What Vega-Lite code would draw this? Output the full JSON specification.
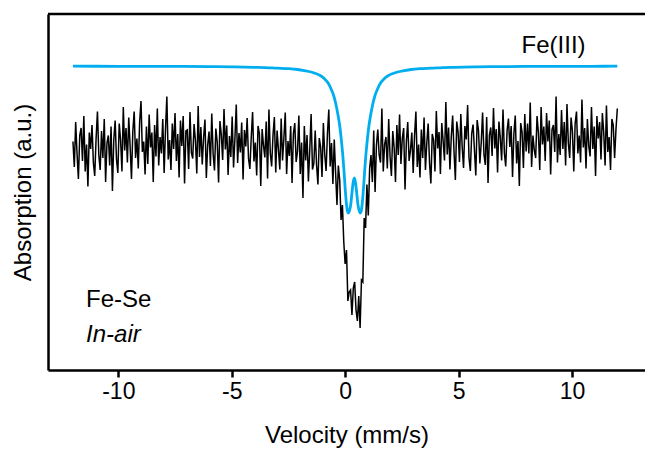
{
  "$schema": "https://vega.github.io/schema/vega-lite/v6.json",
  "width": 597,
  "height": 356,
  "autosize": {"type": "none"},
  "padding": {"left": 48, "top": 14, "right": 0, "bottom": 84},
  "background": "white",
  "datasets": {
    "raw": [
      {"v":-12,"a":228.5},{"v":-11.94,"a":203},{"v":-11.88,"a":248},{"v":-11.82,"a":216.5},{"v":-11.76,"a":191},{"v":-11.7,"a":234.5},{"v":-11.64,"a":242},{"v":-11.58,"a":209},{"v":-11.52,"a":254},{"v":-11.46,"a":198.5},
      {"v":-11.4,"a":225.5},{"v":-11.34,"a":183.5},{"v":-11.28,"a":237.5},{"v":-11.22,"a":221},{"v":-11.16,"a":245},{"v":-11.1,"a":207.5},{"v":-11.04,"a":194},{"v":-10.98,"a":231.5},{"v":-10.92,"a":258.5},{"v":-10.86,"a":215},
      {"v":-10.8,"a":200},{"v":-10.74,"a":239},{"v":-10.68,"a":212},{"v":-10.62,"a":251},{"v":-10.56,"a":188},{"v":-10.5,"a":227},{"v":-10.44,"a":234.5},{"v":-10.38,"a":204.5},{"v":-10.32,"a":243.5},{"v":-10.26,"a":179},
      {"v":-10.2,"a":230},{"v":-10.14,"a":249.5},{"v":-10.08,"a":210.5},{"v":-10.02,"a":197},{"v":-9.96,"a":246.5},{"v":-9.9,"a":230},{"v":-9.84,"a":198.5},{"v":-9.78,"a":263},{"v":-9.72,"a":219.5},{"v":-9.66,"a":242},
      {"v":-9.6,"a":207.5},{"v":-9.54,"a":252.5},{"v":-9.48,"a":224},{"v":-9.42,"a":191},{"v":-9.36,"a":239},{"v":-9.3,"a":258.5},{"v":-9.24,"a":212},{"v":-9.18,"a":231.5},{"v":-9.12,"a":201.5},{"v":-9.06,"a":248},
      {"v":-9,"a":269},{"v":-8.94,"a":218},{"v":-8.88,"a":228.5},{"v":-8.82,"a":195.5},{"v":-8.76,"a":243.5},{"v":-8.7,"a":206},{"v":-8.64,"a":255.5},{"v":-8.58,"a":222.5},{"v":-8.52,"a":237.5},{"v":-8.46,"a":188},
      {"v":-8.4,"a":245},{"v":-8.34,"a":213.5},{"v":-8.28,"a":261.5},{"v":-8.22,"a":204.5},{"v":-8.16,"a":233},{"v":-8.1,"a":216.5},{"v":-8.04,"a":251},{"v":-7.98,"a":197},{"v":-7.92,"a":240.5},{"v":-7.86,"a":273.5},
      {"v":-7.8,"a":210.5},{"v":-7.74,"a":230},{"v":-7.68,"a":200},{"v":-7.62,"a":246.5},{"v":-7.56,"a":221},{"v":-7.5,"a":257},{"v":-7.44,"a":209},{"v":-7.38,"a":236},{"v":-7.32,"a":192.5},{"v":-7.26,"a":249.5},
      {"v":-7.2,"a":224},{"v":-7.14,"a":254},{"v":-7.08,"a":186.5},{"v":-7.02,"a":239},{"v":-6.96,"a":240},{"v":-6.9,"a":201},{"v":-6.84,"a":258},{"v":-6.78,"a":217.5},{"v":-6.72,"a":211.5},{"v":-6.66,"a":246},
      {"v":-6.6,"a":229.5},{"v":-6.54,"a":196.5},{"v":-6.48,"a":264},{"v":-6.42,"a":213},{"v":-6.36,"a":243},{"v":-6.3,"a":205.5},{"v":-6.24,"a":232.5},{"v":-6.18,"a":250.5},{"v":-6.12,"a":192},{"v":-6.06,"a":225},
      {"v":-6,"a":238.5},{"v":-5.94,"a":204},{"v":-5.88,"a":256.5},{"v":-5.82,"a":216},{"v":-5.76,"a":199.5},{"v":-5.7,"a":241.5},{"v":-5.64,"a":228},{"v":-5.58,"a":187.5},{"v":-5.52,"a":249},{"v":-5.46,"a":235.5},
      {"v":-5.4,"a":210},{"v":-5.34,"a":261},{"v":-5.28,"a":220.5},{"v":-5.22,"a":244.5},{"v":-5.16,"a":195},{"v":-5.1,"a":234},{"v":-5.04,"a":213},{"v":-4.98,"a":253.5},{"v":-4.92,"a":202.5},{"v":-4.86,"a":231},
      {"v":-4.8,"a":265.5},{"v":-4.74,"a":207},{"v":-4.68,"a":237},{"v":-4.62,"a":217.5},{"v":-4.56,"a":247.5},{"v":-4.5,"a":190.5},{"v":-4.44,"a":240},{"v":-4.38,"a":223.5},{"v":-4.32,"a":252},{"v":-4.26,"a":211.5},
      {"v":-4.2,"a":201},{"v":-4.14,"a":232.5},{"v":-4.08,"a":258},{"v":-4.02,"a":208.5},{"v":-3.96,"a":227.5},{"v":-3.9,"a":194.5},{"v":-3.84,"a":244},{"v":-3.78,"a":236.5},{"v":-3.72,"a":184},{"v":-3.66,"a":241},
      {"v":-3.6,"a":224.5},{"v":-3.54,"a":212.5},{"v":-3.48,"a":248.5},{"v":-3.42,"a":191.5},{"v":-3.36,"a":260.5},{"v":-3.3,"a":217},{"v":-3.24,"a":203.5},{"v":-3.18,"a":235},{"v":-3.12,"a":253},{"v":-3.06,"a":197.5},
      {"v":-3,"a":239.5},{"v":-2.94,"a":220},{"v":-2.88,"a":200.5},{"v":-2.82,"a":251.5},{"v":-2.76,"a":209.5},{"v":-2.7,"a":232},{"v":-2.64,"a":257.5},{"v":-2.58,"a":196},{"v":-2.52,"a":229},{"v":-2.46,"a":214},
      {"v":-2.4,"a":244},{"v":-2.34,"a":187},{"v":-2.28,"a":236.5},{"v":-2.22,"a":247},{"v":-2.16,"a":208},{"v":-2.1,"a":218.5},{"v":-2.04,"a":254.5},{"v":-1.98,"a":196},{"v":-1.92,"a":227.5},{"v":-1.86,"a":172},
      {"v":-1.8,"a":244},{"v":-1.74,"a":209.5},{"v":-1.68,"a":235},{"v":-1.62,"a":188.5},{"v":-1.56,"a":220},{"v":-1.5,"a":256},{"v":-1.44,"a":200.5},{"v":-1.38,"a":206.5},{"v":-1.32,"a":239.5},{"v":-1.26,"a":205},
      {"v":-1.2,"a":185.5},{"v":-1.14,"a":232},{"v":-1.08,"a":223},{"v":-1.02,"a":193},{"v":-0.96,"a":247},{"v":-0.9,"a":215.5},{"v":-0.84,"a":199},{"v":-0.78,"a":236.5},{"v":-0.72,"a":260.5},{"v":-0.66,"a":203.5},
      {"v":-0.6,"a":227},{"v":-0.54,"a":186},{"v":-0.48,"a":230.5},{"v":-0.42,"a":197},{"v":-0.36,"a":165},{"v":-0.3,"a":204.5},{"v":-0.24,"a":190},{"v":-0.18,"a":150},{"v":-0.12,"a":165},{"v":-0.06,"a":128},
      {"v":0,"a":106},{"v":0.06,"a":120},{"v":0.12,"a":69},{"v":0.18,"a":78},{"v":0.24,"a":80},{"v":0.3,"a":55},{"v":0.36,"a":82},{"v":0.42,"a":88},{"v":0.48,"a":60},{"v":0.54,"a":49},
      {"v":0.6,"a":74},{"v":0.66,"a":42},{"v":0.72,"a":90},{"v":0.78,"a":88},{"v":0.84,"a":152},{"v":0.9,"a":142},{"v":0.96,"a":185.5},{"v":1.02,"a":154.5},{"v":1.08,"a":201.5},{"v":1.14,"a":215},
      {"v":1.2,"a":188},{"v":1.26,"a":239.5},{"v":1.32,"a":178},{"v":1.38,"a":225},{"v":1.44,"a":240.5},{"v":1.5,"a":215},{"v":1.56,"a":207.5},{"v":1.62,"a":261.5},{"v":1.68,"a":198.5},{"v":1.74,"a":225.5},
      {"v":1.8,"a":233},{"v":1.86,"a":201.5},{"v":1.92,"a":251},{"v":1.98,"a":213.5},{"v":2.04,"a":194},{"v":2.1,"a":239},{"v":2.16,"a":222.5},{"v":2.22,"a":188},{"v":2.28,"a":245},{"v":2.34,"a":215},
      {"v":2.4,"a":255.5},{"v":2.46,"a":206},{"v":2.52,"a":231.5},{"v":2.58,"a":242},{"v":2.64,"a":180.5},{"v":2.7,"a":228.5},{"v":2.76,"a":248},{"v":2.82,"a":209},{"v":2.88,"a":219.5},{"v":2.94,"a":237.5},
      {"v":3,"a":197},{"v":3.06,"a":234.5},{"v":3.12,"a":258.5},{"v":3.18,"a":203},{"v":3.24,"a":225.5},{"v":3.3,"a":192.5},{"v":3.36,"a":240.5},{"v":3.42,"a":212},{"v":3.48,"a":252.5},{"v":3.54,"a":200},
      {"v":3.6,"a":227},{"v":3.66,"a":246.5},{"v":3.72,"a":207.5},{"v":3.78,"a":186.5},{"v":3.84,"a":236},{"v":3.9,"a":230},{"v":3.96,"a":198.5},{"v":4.02,"a":259},{"v":4.08,"a":221.5},{"v":4.14,"a":238},
      {"v":4.2,"a":196},{"v":4.26,"a":247},{"v":4.32,"a":229},{"v":4.38,"a":209.5},{"v":4.44,"a":268},{"v":4.5,"a":215.5},{"v":4.56,"a":242.5},{"v":4.62,"a":200.5},{"v":4.68,"a":233.5},{"v":4.74,"a":254.5},
      {"v":4.8,"a":218.5},{"v":4.86,"a":190},{"v":4.92,"a":248.5},{"v":4.98,"a":238},{"v":5.04,"a":208},{"v":5.1,"a":256},{"v":5.16,"a":223},{"v":5.22,"a":202},{"v":5.28,"a":244},{"v":5.34,"a":230.5},
      {"v":5.4,"a":265},{"v":5.46,"a":212.5},{"v":5.52,"a":199},{"v":5.58,"a":236.5},{"v":5.64,"a":245.5},{"v":5.7,"a":220},{"v":5.76,"a":194.5},{"v":5.82,"a":250},{"v":5.88,"a":239.5},{"v":5.94,"a":206.5},
      {"v":6,"a":227.5},{"v":6.06,"a":257.5},{"v":6.12,"a":215.5},{"v":6.18,"a":205},{"v":6.24,"a":253},{"v":6.3,"a":187},{"v":6.36,"a":235},{"v":6.42,"a":242.5},{"v":6.48,"a":214},{"v":6.54,"a":262},
      {"v":6.6,"a":221.5},{"v":6.66,"a":241},{"v":6.72,"a":197.5},{"v":6.78,"a":248.5},{"v":6.84,"a":232},{"v":6.9,"a":209.5},{"v":6.96,"a":260.5},{"v":7.02,"a":217},{"v":7.08,"a":203.5},{"v":7.14,"a":239.5},
      {"v":7.2,"a":251.5},{"v":7.26,"a":223},{"v":7.32,"a":244},{"v":7.38,"a":193},{"v":7.44,"a":236.5},{"v":7.5,"a":254.5},{"v":7.56,"a":206.5},{"v":7.62,"a":229},{"v":7.68,"a":184},{"v":7.74,"a":247},
      {"v":7.8,"a":238},{"v":7.86,"a":202},{"v":7.92,"a":256},{"v":7.98,"a":218.5},{"v":8.04,"a":246.5},{"v":8.1,"a":216.5},{"v":8.16,"a":267.5},{"v":8.22,"a":203},{"v":8.28,"a":234.5},{"v":8.34,"a":219.5},
      {"v":8.4,"a":212},{"v":8.46,"a":254},{"v":8.52,"a":237.5},{"v":8.58,"a":200},{"v":8.64,"a":263},{"v":8.7,"a":225.5},{"v":8.76,"a":243.5},{"v":8.82,"a":209},{"v":8.88,"a":257},{"v":8.94,"a":228.5},
      {"v":9,"a":249.5},{"v":9.06,"a":195.5},{"v":9.12,"a":240.5},{"v":9.18,"a":245},{"v":9.24,"a":218},{"v":9.3,"a":273.5},{"v":9.36,"a":207.5},{"v":9.42,"a":236},{"v":9.48,"a":215},{"v":9.54,"a":260},
      {"v":9.6,"a":221},{"v":9.66,"a":248},{"v":9.72,"a":204.5},{"v":9.78,"a":266},{"v":9.84,"a":227},{"v":9.9,"a":212},{"v":9.96,"a":252.5},{"v":10.02,"a":239},{"v":10.08,"a":198.5},{"v":10.14,"a":246.5},
      {"v":10.2,"a":258.5},{"v":10.26,"a":216.5},{"v":10.32,"a":234.5},{"v":10.38,"a":207.5},{"v":10.44,"a":270.5},{"v":10.5,"a":222.5},{"v":10.56,"a":242},{"v":10.62,"a":201.5},{"v":10.68,"a":251},{"v":10.74,"a":224},
      {"v":10.8,"a":213.5},{"v":10.86,"a":263},{"v":10.92,"a":221},{"v":10.98,"a":243.5},{"v":11.04,"a":194},{"v":11.1,"a":254},{"v":11.16,"a":231.5},{"v":11.22,"a":248},{"v":11.28,"a":210.5},{"v":11.34,"a":257},
      {"v":11.4,"a":237.5},{"v":11.46,"a":204.5},{"v":11.52,"a":264.5},{"v":11.58,"a":218},{"v":11.64,"a":233},{"v":11.7,"a":200},{"v":11.76,"a":251},{"v":11.82,"a":245},{"v":11.88,"a":212},{"v":11.94,"a":240.5},
      {"v":12,"a":261.5}
    ],
    "fit": [
      {"v":-12,"a":303.8},{"v":-10,"a":303.7},{"v":-8,"a":303.6},{"v":-6,"a":303.4},{"v":-5,"a":303.1},{"v":-4,"a":302.7},{"v":-3.5,"a":302.4},{"v":-3,"a":301.8},{"v":-2.5,"a":301.3},{"v":-2.1,"a":300.5},
      {"v":-1.8,"a":299.4},{"v":-1.5,"a":298},{"v":-1.3,"a":296.5},{"v":-1.1,"a":294.5},{"v":-0.9,"a":291},{"v":-0.75,"a":287},{"v":-0.6,"a":280},{"v":-0.5,"a":274},{"v":-0.4,"a":265},{"v":-0.3,"a":253},
      {"v":-0.25,"a":246},{"v":-0.2,"a":237},{"v":-0.15,"a":226},{"v":-0.1,"a":214},{"v":-0.05,"a":199},{"v":0,"a":182},{"v":0.05,"a":168},{"v":0.1,"a":159},{"v":0.15,"a":157},{"v":0.2,"a":160},
      {"v":0.25,"a":166},{"v":0.3,"a":177},{"v":0.35,"a":187},{"v":0.405,"a":192},{"v":0.46,"a":187},{"v":0.51,"a":177},{"v":0.56,"a":166},{"v":0.61,"a":160},{"v":0.66,"a":157},{"v":0.71,"a":159},
      {"v":0.76,"a":168},{"v":0.81,"a":182},{"v":0.86,"a":199},{"v":0.91,"a":214},{"v":0.96,"a":226},{"v":1.01,"a":237},{"v":1.06,"a":246},{"v":1.11,"a":253},{"v":1.21,"a":265},{"v":1.31,"a":274},
      {"v":1.41,"a":280},{"v":1.56,"a":287},{"v":1.71,"a":291},{"v":1.91,"a":294.5},{"v":2.11,"a":296.5},{"v":2.31,"a":298},{"v":2.61,"a":299.4},{"v":2.91,"a":300.5},{"v":3.31,"a":301.3},{"v":3.81,"a":301.8},
      {"v":4.31,"a":302.4},{"v":4.81,"a":302.7},{"v":5.81,"a":303.1},{"v":6.81,"a":303.4},{"v":8.81,"a":303.6},{"v":10.81,"a":303.7},{"v":12,"a":303.8}
    ]
  },
  "layer": [
    {
      "data": {"name": "raw"},
      "mark": {"type": "line", "color": "#000000", "strokeWidth": 1.5, "clip": true},
      "encoding": {
        "x": {"field": "v", "type": "quantitative", "scale": {"domain": [-13.1, 13.22], "nice": false, "zero": false},
              "axis": {"title": "Velocity (mm/s)", "values": [-10, -5, 0, 5, 10], "labelExpr": "'' + datum.value"}},
        "y": {"field": "a", "type": "quantitative", "scale": {"domain": [0, 356], "nice": false, "zero": false},
              "axis": {"title": "Absorption (a.u.)"}}
      }
    },
    {
      "data": {"name": "fit"},
      "mark": {"type": "line", "color": "#00AEEF", "strokeWidth": 2.8, "interpolate": "monotone", "clip": true},
      "encoding": {
        "x": {"field": "v", "type": "quantitative", "scale": {"domain": [-13.1, 13.22], "nice": false, "zero": false}, "title": "Velocity (mm/s)"},
        "y": {"field": "a", "type": "quantitative", "scale": {"domain": [0, 356], "nice": false, "zero": false}, "title": "Absorption (a.u.)"}
      }
    },
    {
      "data": {"values": [{}]},
      "mark": {"type": "rule", "color": "black", "strokeWidth": 2.5},
      "encoding": {
        "y": {"datum": 356, "type": "quantitative", "scale": {"domain": [0, 356], "nice": false, "zero": false}, "title": "Absorption (a.u.)"}
      }
    },
    {
      "data": {"values": [{}]},
      "mark": {"type": "text", "text": "Fe(III)", "fontSize": 24, "align": "center", "baseline": "alphabetic", "color": "black"},
      "encoding": {
        "x": {"datum": 9.19, "type": "quantitative", "title": "Velocity (mm/s)"},
        "y": {"datum": 317, "type": "quantitative", "title": "Absorption (a.u.)"}
      }
    },
    {
      "data": {"values": [{}]},
      "mark": {"type": "text", "text": "Fe-Se", "fontSize": 24, "align": "left", "baseline": "alphabetic", "color": "black"},
      "encoding": {
        "x": {"datum": -11.42, "type": "quantitative", "title": "Velocity (mm/s)"},
        "y": {"datum": 63, "type": "quantitative", "title": "Absorption (a.u.)"}
      }
    },
    {
      "data": {"values": [{}]},
      "mark": {"type": "text", "text": "In-air", "fontSize": 24, "fontStyle": "italic", "align": "left", "baseline": "alphabetic", "color": "black"},
      "encoding": {
        "x": {"datum": -11.42, "type": "quantitative", "title": "Velocity (mm/s)"},
        "y": {"datum": 28, "type": "quantitative", "title": "Absorption (a.u.)"}
      }
    }
  ],
  "config": {
    "font": "Liberation Sans",
    "view": {"stroke": null},
    "text": {"font": "Liberation Sans"},
    "axis": {
      "grid": false,
      "domainColor": "black",
      "domainWidth": 2.5,
      "tickColor": "black",
      "tickWidth": 2.5,
      "labelColor": "black",
      "titleColor": "black",
      "labelFont": "Liberation Sans",
      "titleFont": "Liberation Sans",
      "labelFontSize": 23,
      "titleFontSize": 24,
      "titleFontWeight": "normal"
    },
    "axisX": {"tickSize": 7, "labelPadding": 3, "titlePadding": 20, "labelFlush": false},
    "axisY": {"ticks": false, "labels": false, "titlePadding": 13}
  }
}
